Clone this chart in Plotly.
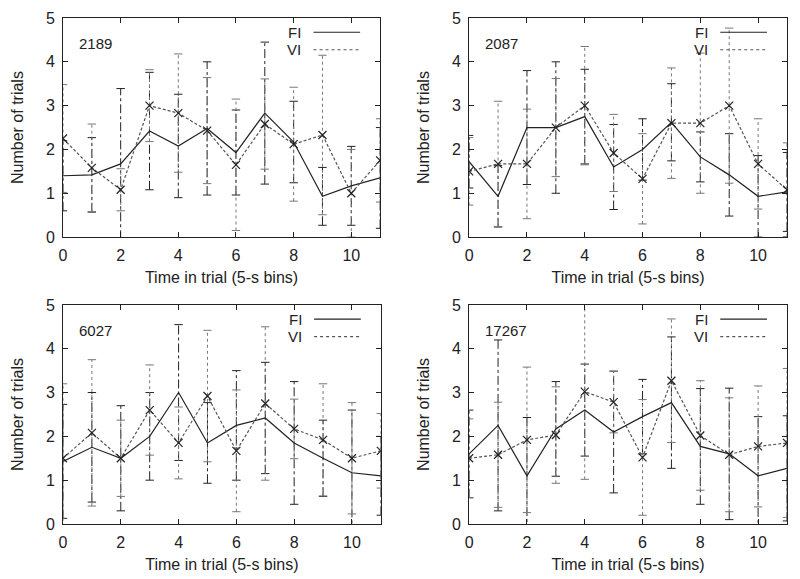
import plotly.graph_objects as go

# time bins 0..11 (5-s bins)
bins = list(range(12))

# panel labels (subject ids)
subjects = ["2189", "2087", "6027", "17267"]

# mean number of trials per bin, FI and VI, and their error (+/-)
fi_2189 = [1.40, 1.42, 1.67, 2.42, 2.08, 2.48, 1.93, 2.83, 2.17, 0.93, 1.17, 1.35]
fi_2189_err = [0.80, 0.85, 1.72, 1.34, 1.18, 1.52, 0.97, 1.62, 0.93, 0.66, 0.90, 1.15]
vi_2189 = [2.25, 1.58, 1.08, 3.00, 2.83, 2.43, 1.65, 2.58, 2.12, 2.33, 1.00, 1.75]
vi_2189_err = [1.23, 1.00, 0.48, 0.82, 1.35, 1.21, 1.50, 1.03, 1.30, 1.82, 1.00, 0.95]

fi_2087 = [1.72, 0.93, 2.50, 2.50, 2.75, 1.60, 2.00, 2.62, 1.83, 1.42, 0.93, 1.03]
fi_2087_err = [0.60, 0.70, 1.30, 1.50, 1.08, 0.97, 0.70, 0.88, 0.57, 0.94, 0.93, 0.90]
vi_2087 = [1.50, 1.67, 1.67, 2.50, 3.00, 1.92, 1.33, 2.60, 2.60, 3.00, 1.67, 1.08]
vi_2087_err = [0.77, 1.43, 1.25, 1.12, 1.35, 0.88, 1.03, 1.26, 1.60, 1.77, 1.03, 1.07]

fi_6027 = [1.43, 1.75, 1.50, 2.00, 3.00, 1.85, 2.25, 2.42, 1.85, 1.50, 1.17, 1.10]
fi_6027_err = [1.30, 1.25, 1.20, 1.00, 1.55, 0.92, 1.25, 1.27, 1.40, 0.87, 1.43, 0.90]
vi_6027 = [1.50, 2.08, 1.50, 2.60, 1.85, 2.92, 1.67, 2.75, 2.17, 1.92, 1.50, 1.67]
vi_6027_err = [1.70, 1.67, 0.87, 1.03, 0.82, 1.50, 1.39, 1.75, 0.68, 1.28, 1.27, 0.85]

fi_17267 = [1.60, 2.25, 1.10, 2.17, 2.60, 2.10, 2.45, 2.77, 1.77, 1.60, 1.10, 1.27]
fi_17267_err = [1.00, 1.95, 1.33, 1.08, 1.05, 1.39, 0.85, 1.50, 1.32, 1.50, 1.35, 1.20]
vi_17267 = [1.50, 1.58, 1.92, 2.03, 3.02, 2.78, 1.52, 3.27, 2.02, 1.58, 1.77, 1.85]
vi_17267_err = [0.90, 1.20, 1.66, 1.10, 2.00, 0.70, 1.32, 1.41, 1.25, 1.30, 1.38, 1.70]

panels = [
    (fi_2189, fi_2189_err, vi_2189, vi_2189_err),
    (fi_2087, fi_2087_err, vi_2087, vi_2087_err),
    (fi_6027, fi_6027_err, vi_6027, vi_6027_err),
    (fi_17267, fi_17267_err, vi_17267, vi_17267_err),
]

# plot areas as axis domains inside the margins: (x0, x1, y0, y1)
domains = [
    (0.0, 0.438, 0.567, 1.0),
    (0.561, 1.0, 0.567, 1.0),
    (0.0, 0.439, 0.0, 0.433),
    (0.561, 1.0, 0.0, 0.433),
]

font = "Liberation Sans, Arial, sans-serif"
ink = "#222222"
vi_col = "#555555"


def bar_lines(y, err):
    xs, ys, cx, cy = [], [], [], []
    for xi, yi, ei in zip(bins, y, err):
        xs += [xi, xi, None]
        ys += [yi - ei, yi + ei, None]
        cx += [xi, xi]
        cy += [yi - ei, yi + ei]
    return xs, ys, cx, cy


fig = go.Figure()

for i, (fi, fi_err, vi, vi_err) in enumerate(panels):
    n = "" if i == 0 else str(i + 1)
    xa, ya = "x" + n, "y" + n

    # error bars: FI dash-dot black, VI dotted grey
    for yv, ev, col, dash in [(fi, fi_err, ink, "dashdot"), (vi, vi_err, "#777777", "dot")]:
        xs, ys, cx, cy = bar_lines(yv, ev)
        fig.add_trace(go.Scatter(x=xs, y=ys, mode="lines", xaxis=xa, yaxis=ya,
                                 line=dict(color=col, width=1, dash=dash),
                                 showlegend=False, hoverinfo="skip"))
        fig.add_trace(go.Scatter(x=cx, y=cy, mode="markers", xaxis=xa, yaxis=ya,
                                 marker=dict(symbol="line-ew", size=6,
                                             line=dict(color=col, width=1)),
                                 showlegend=False, hoverinfo="skip"))

    fig.add_trace(go.Scatter(x=bins, y=fi, mode="lines", name="FI", xaxis=xa, yaxis=ya,
                             line=dict(color=ink, width=1.2), showlegend=False))
    fig.add_trace(go.Scatter(x=bins, y=vi, mode="lines+markers", name="VI", xaxis=xa, yaxis=ya,
                             line=dict(color=vi_col, width=1.2, dash="3px,2px"),
                             marker=dict(symbol="x-thin", size=8,
                                         line=dict(color=ink, width=1.2)),
                             showlegend=False))

    x0, x1, y0, y1 = domains[i]
    axis_common = dict(showline=True, linecolor=ink, linewidth=1, mirror="ticks",
                       ticks="inside", ticklen=5, tickcolor=ink, showgrid=False,
                       zeroline=False, automargin=False, ticklabelstandoff=4,
                       tickfont=dict(family=font, size=16, color=ink))
    fig.layout["xaxis" + n] = dict(axis_common, domain=[x0, x1], range=[0, 11], dtick=2,
                                   anchor=ya,
                                   title=dict(text="Time in trial (5-s bins)", standoff=8,
                                              font=dict(family=font, size=16, color=ink)))
    fig.layout["yaxis" + n] = dict(axis_common, domain=[y0, y1], range=[0, 5], dtick=1,
                                   anchor=xa,
                                   title=dict(text="Number of trials", standoff=18,
                                              font=dict(family=font, size=16, color=ink)))

    # subject label
    fig.add_annotation(text=subjects[i], xref=xa + " domain", yref=ya + " domain",
                       x=0.045, y=0.885, xanchor="left", yanchor="middle", showarrow=False,
                       font=dict(family=font, size=15, color=ink))
    # key
    for lab, ky, col, dash in [("FI", 0.935, ink, "solid"), ("VI", 0.855, vi_col, "dot")]:
        fig.add_annotation(text=lab, xref=xa + " domain", yref=ya + " domain",
                           x=0.755, y=ky, xanchor="right", yanchor="middle", showarrow=False,
                           borderpad=0, font=dict(family=font, size=15, color=ink))
        fig.add_shape(type="line", xref=xa + " domain", yref=ya + " domain",
                      x0=0.79, x1=0.937, y0=ky, y1=ky,
                      line=dict(color=col, width=1.2, dash=dash))

fig.update_layout(width=800, height=579, margin=dict(l=55, r=21, t=10, b=63),
                  paper_bgcolor="white", plot_bgcolor="white",
                  font=dict(family=font, color=ink))

fig.write_html("out.html")
